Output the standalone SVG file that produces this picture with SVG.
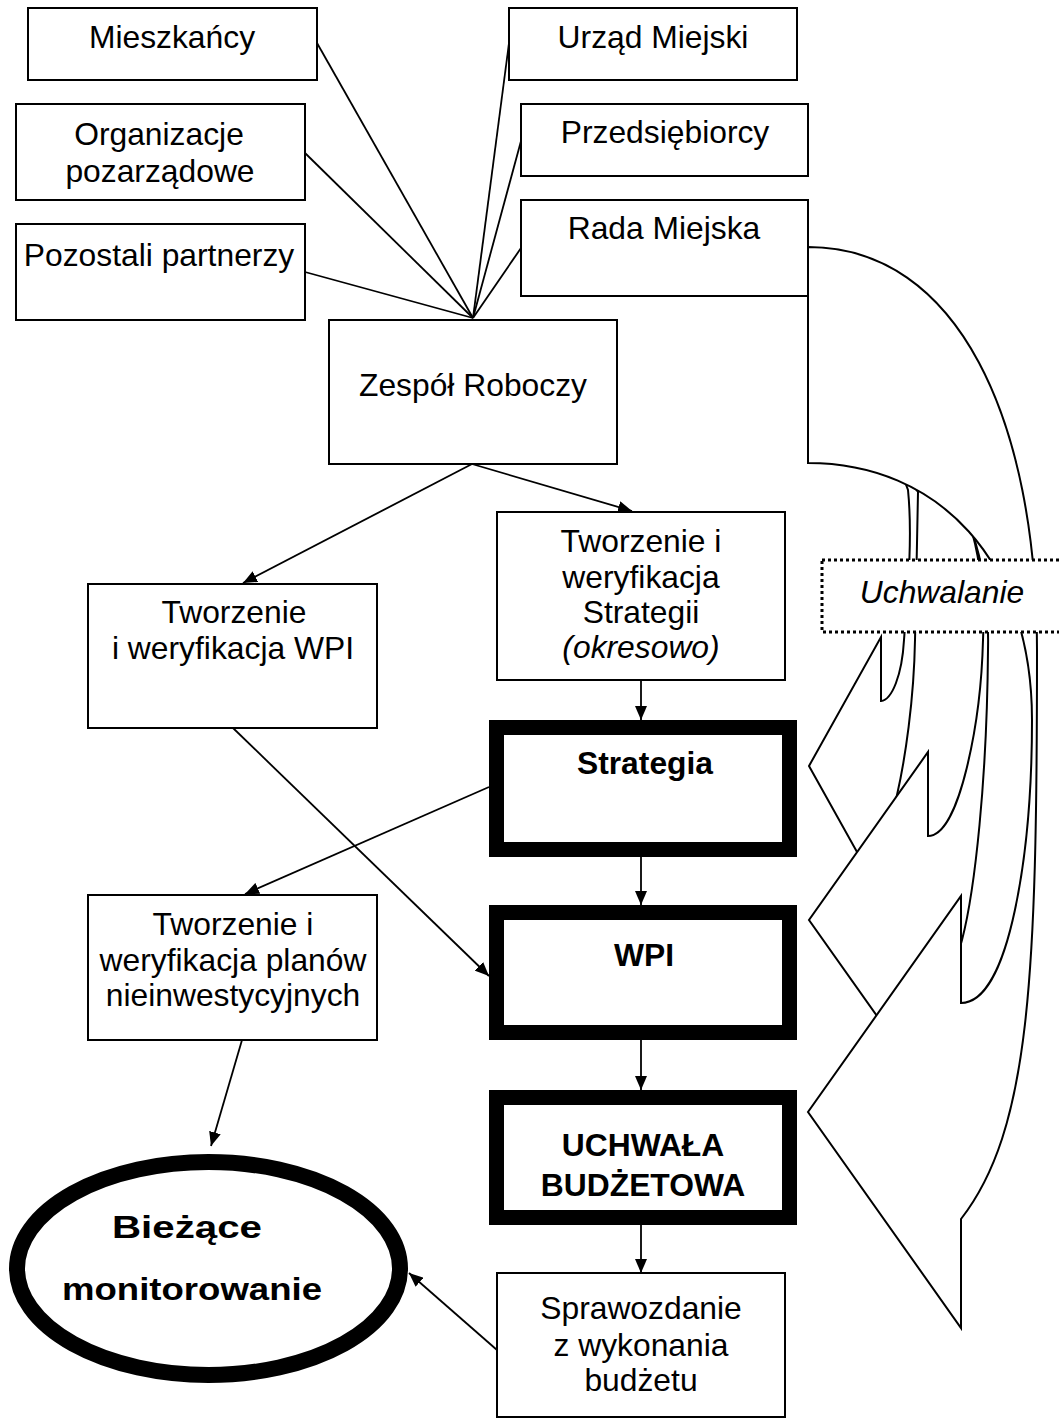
<svg xmlns="http://www.w3.org/2000/svg" width="1059" height="1419" viewBox="0 0 1059 1419">
<defs>
<style>
.box{fill:#fff;stroke:#000;stroke-width:2}
.thick{fill:#fff;stroke:#000;stroke-width:15}
.t{font-family:"Liberation Sans",Arial,sans-serif;font-size:31.8px;fill:#000;text-anchor:middle}
.b{font-weight:bold}
.i{font-style:italic}
.ln{stroke:#000;stroke-width:1.8;fill:none}
.arr{stroke:#000;stroke-width:1.8;fill:none;marker-end:url(#ah)}
.carr{fill:#fff;stroke:#000;stroke-width:2;stroke-linejoin:miter}
</style>
<marker id="ah" markerUnits="userSpaceOnUse" markerWidth="16" markerHeight="12" refX="14" refY="6" orient="auto">
<path d="M0,0 L14,6 L0,12 Z" fill="#000"/>
</marker>
</defs>
<rect width="1059" height="1419" fill="#fff"/>

<g id="connectors">
<line class="ln" x1="317" y1="43" x2="473" y2="318"/>
<line class="ln" x1="305" y1="153" x2="473" y2="318"/>
<line class="ln" x1="305" y1="272" x2="473" y2="318"/>
<line class="ln" x1="509" y1="43" x2="473" y2="318"/>
<line class="ln" x1="521" y1="141" x2="473" y2="318"/>
<line class="ln" x1="521" y1="248" x2="473" y2="318"/>
<line class="arr" x1="472" y1="464" x2="243" y2="583"/>
<line class="arr" x1="472" y1="464" x2="632" y2="511"/>
<line class="arr" x1="233" y1="728" x2="489" y2="976"/>
<line class="arr" x1="489" y1="787" x2="245" y2="894"/>
<line class="arr" x1="641" y1="680" x2="641" y2="720"/>
<line class="arr" x1="641" y1="857" x2="641" y2="905"/>
<line class="arr" x1="641" y1="1040" x2="641" y2="1090"/>
<line class="arr" x1="641" y1="1225" x2="641" y2="1273"/>
<line class="arr" x1="242" y1="1040" x2="211" y2="1146"/>
<line class="arr" x1="497" y1="1350" x2="409" y2="1273"/>
</g>

<g id="curved-arrows">
<path id="arrow-strategia" class="carr" d="M 808,350 L 880,440 L 918,492 C 917,540 916,600 915,640 C 914,700 905,760 897,795 C 893,815 888,830 881,840 L 881,895 L 809,766 L 881,637 L 881,701 C 892,700 902,675 904,640 C 907,600 913,540 908,490 L 895,455 L 808,410 Z"/>
<path id="arrow-wpi" class="carr" d="M 808,330 L 945,470 L 972,532 C 982,560 989,600 988,650 C 987,780 975,890 962,940 C 950,985 940,1000 928,1010 L 928,1088 L 809,920 L 928,752 L 928,836 C 960,836 981,720 983,640 C 985,600 980,560 972,532 L 940,480 L 808,400 Z"/>
<path id="arrow-uchwala" class="carr" d="M 808,247 C 958,247 1037,420 1037,650 C 1037,980 1030,1130 961,1219 L 961,1328 L 808,1112 L 961,896 L 961,1003 C 1010,1003 1032,850 1032,720 C 1032,560 938,463 808,463 Z"/>
</g>

<g id="n-mieszkancy"><rect class="box" x="28" y="8" width="289" height="72"/><text class="t" x="172" y="48">Mieszkańcy</text></g>
<g id="n-urzad"><rect class="box" x="509" y="8" width="288" height="72"/><text class="t" x="653" y="48">Urząd Miejski</text></g>
<g id="n-organizacje"><rect class="box" x="16" y="104" width="289" height="96"/><text class="t" x="159" y="145">Organizacje</text><text class="t" x="160" y="182">pozarządowe</text></g>
<g id="n-przedsiebiorcy"><rect class="box" x="521" y="104" width="287" height="72"/><text class="t" x="665" y="143">Przedsiębiorcy</text></g>
<g id="n-pozostali"><rect class="box" x="16" y="224" width="289" height="96"/><text class="t" x="159" y="266">Pozostali partnerzy</text></g>
<g id="n-rada"><rect class="box" x="521" y="200" width="287" height="96"/><text class="t" x="664" y="239">Rada Miejska</text></g>
<g id="n-zespol"><rect class="box" x="329" y="320" width="288" height="144"/><text class="t" x="473" y="396">Zespół Roboczy</text></g>
<g id="n-tw-strategii"><rect class="box" x="497" y="512" width="288" height="168"/><text class="t" x="641" y="552">Tworzenie i</text><text class="t" x="641" y="588">weryfikacja</text><text class="t" x="641" y="623">Strategii</text><text class="t i" x="641" y="658">(okresowo)</text></g>
<g id="n-tw-wpi"><rect class="box" x="88" y="584" width="289" height="144"/><text class="t" x="234" y="623">Tworzenie</text><text class="t" x="233" y="659">i weryfikacja WPI</text></g>
<g id="n-strategia"><rect class="thick" x="496.5" y="727.5" width="293" height="122"/><text class="t b" x="645" y="774">Strategia</text></g>
<g id="n-tw-planow"><rect class="box" x="88" y="895" width="289" height="145"/><text class="t" x="233" y="935">Tworzenie i</text><text class="t" x="233" y="971">weryfikacja planów</text><text class="t" x="233" y="1006">nieinwestycyjnych</text></g>
<g id="n-wpi"><rect class="thick" x="496.5" y="912.5" width="293" height="120"/><text class="t b" x="644" y="966">WPI</text></g>
<g id="n-uchwala"><rect class="thick" x="496.5" y="1097.5" width="293" height="120"/><text class="t b" x="643" y="1156">UCHWAŁA</text><text class="t b" x="643" y="1196">BUDŻETOWA</text></g>
<g id="n-sprawozdanie"><rect class="box" x="497" y="1273" width="288" height="144"/><text class="t" x="641" y="1319">Sprawozdanie</text><text class="t" x="641" y="1356">z wykonania</text><text class="t" x="641" y="1391">budżetu</text></g>
<g id="n-monitorowanie"><ellipse cx="208.5" cy="1268.5" rx="191.5" ry="106.5" fill="#fff" stroke="#000" stroke-width="16"/><text class="t b" x="187" y="1238" font-size="33" textLength="150" lengthAdjust="spacingAndGlyphs">Bieżące</text><text class="t b" x="192" y="1300" font-size="33" textLength="260" lengthAdjust="spacingAndGlyphs">monitorowanie</text></g>
<g id="n-uchwalanie"><rect x="822" y="560" width="260" height="72" fill="#fff" stroke="#000" stroke-width="3" stroke-dasharray="3 3"/><text class="t i" x="942" y="603">Uchwalanie</text></g>
</svg>
